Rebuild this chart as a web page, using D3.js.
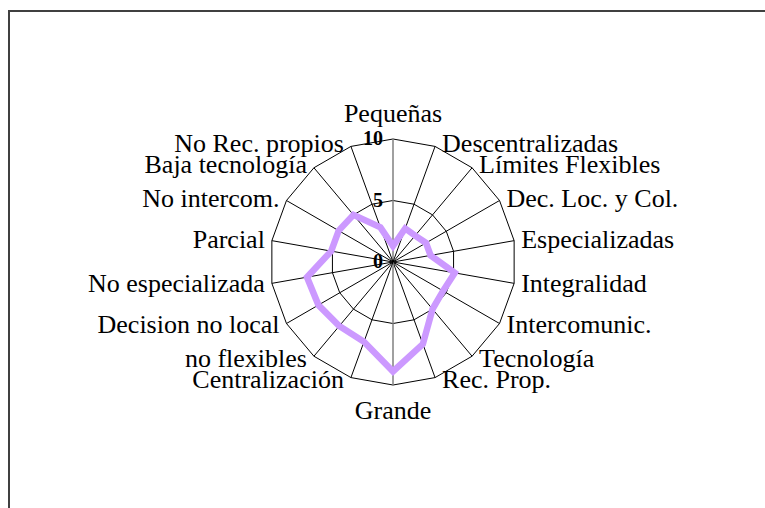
<!DOCTYPE html>
<html>
<head>
<meta charset="utf-8">
<script src="https://cdn.jsdelivr.net/npm/d3@7"></script>
<style>
    body { margin: 0; background: #ffffff; }
    svg { display: block; }
</style>
</head>
<body>
<div id="chart"></div>
<script>
// radar categories, clockwise from the top
var categories = [
    'Pequeñas', 'Descentralizadas', 'Límites Flexibles', 'Dec. Loc. y Col.',
    'Especializadas', 'Integralidad', 'Intercomunic.', 'Tecnología', 'Rec. Prop.',
    'Grande', 'Centralización', 'no flexibles', 'Decision no local',
    'No especializada', 'Parcial', 'No intercom.', 'Baja tecnología', 'No Rec. propios'
];
var values = [
    1.3, 2.9, 2.8, 3.1,
    3.1, 5.1, 4.7, 5.0, 7.1,
    8.9, 6.9, 6.8, 7.0,
    7.1, 5.1, 5.1, 5.0, 3.0
];
var ringTicks = [5, 10];
var tickLabels = [0, 5, 10];

var width = 765, height = 508;
var cx = 393, cy = 262, R = 123;

var svg = d3.select('#chart').append('svg')
    .attr('width', width)
    .attr('height', height);

// chart area border (runs past the right and bottom edge)
svg.append('rect')
    .attr('x', 9).attr('y', 11)
    .attr('width', width + 20).attr('height', height + 20)
    .attr('fill', '#ffffff')
    .attr('stroke', '#404040')
    .attr('stroke-width', 2);

var rScale = d3.scaleLinear().domain([0, 10]).range([0, R]);
var aScale = d3.scaleLinear().domain([0, categories.length]).range([0, 2 * Math.PI]);

var g = svg.append('g').attr('transform', 'translate(' + cx + ',' + cy + ')');

function px(i, r) { return Math.sin(aScale(i)) * r; }
function py(i, r) { return -Math.cos(aScale(i)) * r; }

// rings
var ringLine = d3.lineRadial()
    .angle(function (d, i) { return aScale(i); })
    .radius(function (d) { return rScale(d); })
    .curve(d3.curveLinearClosed);

g.selectAll('path.ring').data(ringTicks).enter().append('path')
    .attr('class', 'ring')
    .attr('d', function (t) { return ringLine(categories.map(function () { return t; })); })
    .attr('fill', 'none')
    .attr('stroke', '#000000')
    .attr('stroke-width', 1);

// spokes, the vertical one is the value axis (grey)
g.selectAll('line.spoke').data(categories).enter().append('line')
    .attr('class', 'spoke')
    .attr('x1', 0).attr('y1', 0)
    .attr('x2', function (d, i) { return px(i, rScale(10)); })
    .attr('y2', function (d, i) { return py(i, rScale(10)); })
    .attr('stroke', function (d, i) { return (i === 0 || i === categories.length / 2) ? '#808080' : '#000000'; })
    .attr('stroke-width', function (d, i) { return (i === 0 || i === categories.length / 2) ? 1.5 : 1; });

// data series
g.append('path')
    .datum(values)
    .attr('d', ringLine)
    .attr('fill', 'none')
    .attr('stroke', '#CC99FF')
    .attr('stroke-width', 6.5)
    .attr('stroke-linejoin', 'miter');

// value axis labels
g.selectAll('text.tick').data(tickLabels).enter().append('text')
    .attr('class', 'tick')
    .attr('x', -10)
    .attr('y', function (d) { return -rScale(d) + 6; })
    .attr('text-anchor', 'end')
    .attr('font-family', '"Liberation Serif", "Times New Roman", serif')
    .attr('font-weight', 'bold')
    .attr('font-size', 20)
    .attr('fill', '#000000')
    .text(function (d) { return d; });

// category labels
var half = categories.length / 2;
g.selectAll('text.cat').data(categories).enter().append('text')
    .attr('class', 'cat')
    .attr('x', function (d, i) {
        if (i === 0 || i === half) return 0;
        return px(i, R) + (i < half ? 7 : -7);
    })
    .attr('y', function (d, i) {
        if (i === 0) return -R - 17;
        if (i === half) return R + 34;
        return py(i, R) + 8 - 3 * Math.cos(aScale(i));
    })
    .attr('text-anchor', function (d, i) {
        if (i === 0 || i === half) return 'middle';
        return i < half ? 'start' : 'end';
    })
    .attr('font-family', '"Liberation Serif", "Times New Roman", serif')
    .attr('font-size', 26)
    .attr('fill', '#000000')
    .text(function (d) { return d; });
</script>
</body>
</html>
